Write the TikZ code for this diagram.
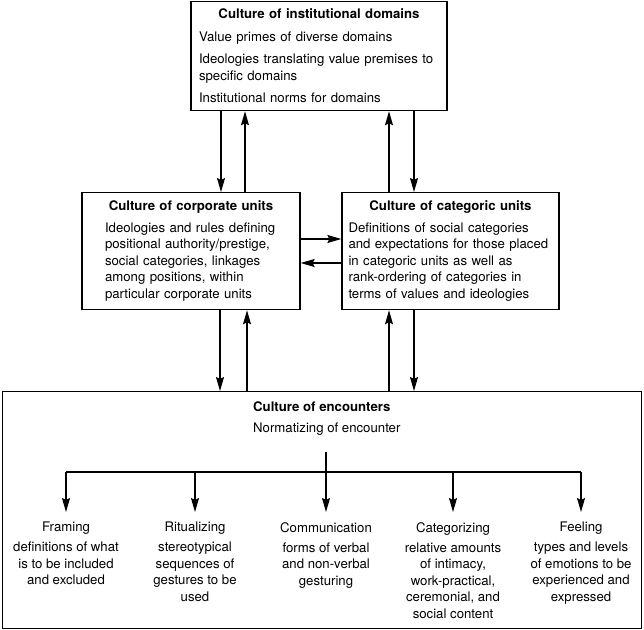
\documentclass[tikz,border=0pt]{standalone}
\usepackage{fontspec}
\setmainfont{TeX Gyre Heros}
\usetikzlibrary{arrows.meta,positioning}
\tikzset{
    %Define standard arrow tip
    >={Stealth[length=14pt,width=8pt,inset=2pt]},
    font=\fontsize{13.2}{16.5}\selectfont,
    %Define style for boxes
    kasten/.style={
           rectangle,
           draw=black, line width=1.3pt,
           align=left,
           inner xsep=3pt,
           inner ysep=0pt},
    % Define arrow style
    pfeil/.style={
           ->,
           line width=1.2pt},
    linie/.style={line width=1.2pt},
    % Define style for the leaves of the encounter tree
    blatt/.style={align=center, anchor=north, inner sep=0pt}
}

\begin{document}
\begin{tikzpicture}[x=1pt,y=-1pt]
  \useasboundingbox (0,0) rectangle (644,629);
  \node[kasten, text width=240pt, minimum width=256pt, minimum height=109pt, anchor=north] (inst) at (319,1)
    {{\centering\bfseries Culture of institutional domains\par}\vspace{6pt}
     Value primes of diverse domains\par\vspace{6pt}
     Ideologies translating value premises to\\ specific domains\par\vspace{6pt}
     Institutional norms for domains};
  \node[kasten, text width=172pt, minimum width=218pt, minimum height=117pt, anchor=north] (corp) at (191,192)
    {{\centering\bfseries Culture of corporate units\par}\vspace{5pt}
     Ideologies and rules defining\\ positional authority/prestige,\\ social categories, linkages\\
     among positions, within\\ particular corporate units};
  \node[kasten, text width=208pt, minimum width=217pt, minimum height=117pt, anchor=north] (categ) at (450.5,192)
    {{\centering\bfseries Culture of categoric units\par}\vspace{5pt}
     \hspace*{2pt}Definitions of social categories\\ \hspace*{2pt}and expectations for those placed\\ \hspace*{2pt}in categoric units as well as\\
     \hspace*{2pt}rank-ordering of categories in\\ \hspace*{2pt}terms of values and ideologies};
  \node[kasten, minimum width=639pt, minimum height=237pt, anchor=north west] (enc) at (2,391) {};
  \node[align=left, anchor=north west, inner sep=0pt] (norm) at (253,402)
    {{\bfseries Culture of encounters}\\[4.5pt] Normatizing of encounter};
  % leaves
  \node[blatt] (framing) at (66,522) {Framing\\[3.5pt] definitions of what\\ is to be included\\ and excluded};
  \node[blatt] (ritual) at (195,522) {Ritualizing\\[3.5pt] stereotypical\\ sequences of\\ gestures to be\\ used};
  \node[blatt] (comm) at (326,522) {Communication\\[3.5pt] forms of verbal\\ and non-verbal\\ gesturing};
  \node[blatt] (categorizing) at (453,522) {Categorizing\\[3.5pt] relative amounts\\ of intimacy,\\ work-practical,\\ ceremonial, and\\ social content};
  \node[blatt] (feeling) at (581,522) {Feeling\\[3.5pt] types and levels\\ of emotions to be\\ experienced and\\ expressed};
  \coordinate (knoten) at (326,472);
  \path[pfeil]
    (inst.south -| 221,0) edge (corp.north -| 221,0)
    (corp.north -| 245,0) edge (inst.south -| 245,0)
    (categ.north -| 389,0) edge (inst.south -| 389,0)
    (inst.south -| 414,0) edge (categ.north -| 414,0)
    (corp.east |- 0,239) edge (categ.west |- 0,239)
    (categ.west |- 0,263) edge (corp.east |- 0,263)
    (corp.south -| 220,0) edge (enc.north -| 220,0)
    (enc.north -| 247,0) edge (corp.south -| 247,0)
    (enc.north -| 389,0) edge (categ.south -| 389,0)
    (categ.south -| 414,0) edge (enc.north -| 414,0);
  \draw[linie] (knoten |- 0,452) -- (knoten);
  \draw[linie] (knoten -| framing.north) -- (knoten -| feeling.north);
  \path[pfeil, shorten >=10pt]
    (knoten -| framing.north) edge (framing.north)
    (knoten -| ritual.north) edge (ritual.north)
    (knoten -| comm.north) edge (comm.north)
    (knoten -| categorizing.north) edge (categorizing.north)
    (knoten -| feeling.north) edge (feeling.north);
\end{tikzpicture}
\end{document}
